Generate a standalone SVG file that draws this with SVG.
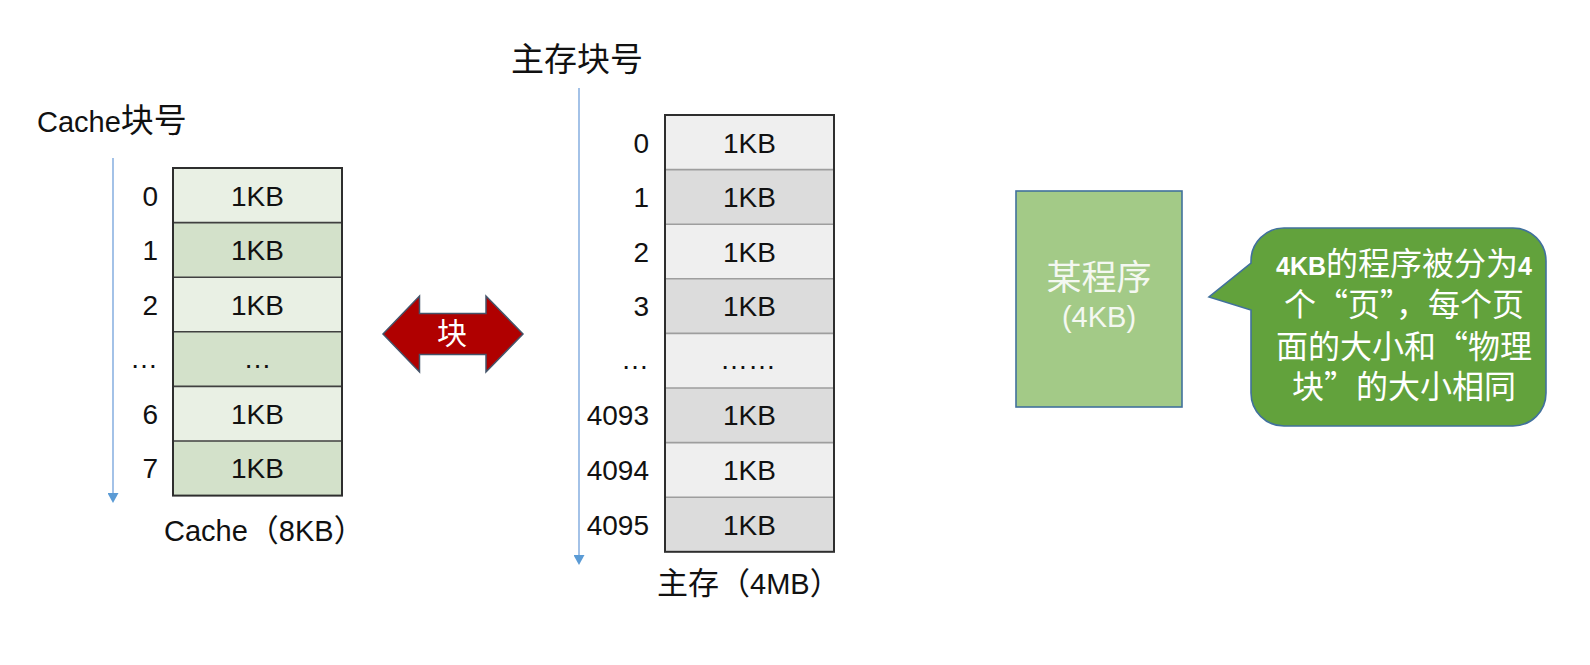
<svg xmlns="http://www.w3.org/2000/svg" width="1590" height="665" viewBox="0 0 1590 665">
  <style>
    .lbl { font-family: 'Liberation Sans', 'Noto Sans CJK SC', sans-serif; font-size: 28px; fill: #111; }
    .num { text-anchor: end; }
    .mid { text-anchor: middle; }
    .title { font-family: 'Liberation Sans', 'Noto Sans CJK SC', sans-serif; font-size: 29px; fill: #111; }
    .cjk { font-family: 'Noto Sans CJK SC', sans-serif; }
    .latin { font-family: 'Liberation Sans', sans-serif; }
    .c-light { fill: #E9F0E4; }
    .c-dark { fill: #D3E1CA; }
    .m-light { fill: #EFEFEF; }
    .m-dark { fill: #DCDCDC; }
    .c-div { stroke: #404040; stroke-width: 1.6; }
    .m-div { stroke: #9E9E9E; stroke-width: 1.6; }
    .frame { fill: none; stroke: #2E2E2E; stroke-width: 2; }
    .axis { stroke: #8DB3E2; stroke-width: 1.6; fill: none; }
    .white { fill: #FFFFFF; }
    .fw { font-feature-settings: "fwid" 1; }
  </style>
  <defs>
    <marker id="axisHead" viewBox="0 0 10 11" refX="0" refY="5.5" markerWidth="10" markerHeight="11" markerUnits="userSpaceOnUse" orient="auto">
      <path d="M0,0 L10,5.5 L0,11 z" fill="#5B9BD5"/>
    </marker>
  </defs>

  <rect width="1590" height="665" fill="#FFFFFF"/>

  <!-- axis arrows along the block numbers -->
  <g id="connectors">
    <line class="axis" x1="113" y1="158" x2="113" y2="493" marker-end="url(#axisHead)"/>
    <line class="axis" x1="579" y1="88" x2="579" y2="555" marker-end="url(#axisHead)"/>
  </g>

  <!-- Cache: 8 blocks of 1KB -->
  <g id="cache">
    <text class="title" x="37" y="132" font-size="30">Cache<tspan class="cjk" font-size="33">块号</tspan></text>
    <rect class="c-light" x="173" y="168" width="169" height="54.6"/>
    <rect class="c-dark" x="173" y="222.6" width="169" height="54.6"/>
    <rect class="c-light" x="173" y="277.2" width="169" height="54.6"/>
    <rect class="c-dark" x="173" y="331.8" width="169" height="54.6"/>
    <rect class="c-light" x="173" y="386.4" width="169" height="54.6"/>
    <rect class="c-dark" x="173" y="441" width="169" height="54.6"/>
    <line class="c-div" x1="173" y1="222.6" x2="342" y2="222.6"/>
    <line class="c-div" x1="173" y1="277.2" x2="342" y2="277.2"/>
    <line class="c-div" x1="173" y1="331.8" x2="342" y2="331.8"/>
    <line class="c-div" x1="173" y1="386.4" x2="342" y2="386.4"/>
    <line class="c-div" x1="173" y1="441" x2="342" y2="441"/>
    <rect class="frame" x="173" y="168" width="169" height="327.6"/>

    <text class="lbl num" x="158" y="205.5">0</text>
    <text class="lbl num" x="158" y="260">1</text>
    <text class="lbl num" x="158" y="314.6">2</text>
    <text class="lbl num" x="158" y="368">…</text>
    <text class="lbl num" x="158" y="423.8">6</text>
    <text class="lbl num" x="158" y="478.4">7</text>

    <text class="lbl mid" x="257.5" y="205.5">1KB</text>
    <text class="lbl mid" x="257.5" y="260">1KB</text>
    <text class="lbl mid" x="257.5" y="314.6">1KB</text>
    <text class="lbl mid" x="257.5" y="368">…</text>
    <text class="lbl mid" x="257.5" y="423.8">1KB</text>
    <text class="lbl mid" x="257.5" y="478.4">1KB</text>

    <text class="title" x="164" y="541">Cache<tspan class="cjk" font-size="31">（</tspan>8KB<tspan class="cjk" font-size="31">）</tspan></text>
  </g>

  <!-- block transfer between cache and main memory -->
  <g id="block-transfer">
    <polygon points="383,334 419.5,296 419.5,313.5 486,313.5 486,296 523,334 486,372 486,354.5 419.5,354.5 419.5,372" fill="#B00000" stroke="#44546A" stroke-width="1.5"/>
    <text class="cjk white" x="452" y="344" font-size="30" text-anchor="middle">块</text>
  </g>

  <!-- Main memory: 4096 blocks of 1KB -->
  <g id="main-memory">
    <text class="cjk" x="511" y="71" font-size="33" fill="#111">主存块号</text>
    <rect class="m-light" x="665" y="115" width="169" height="54.6"/>
    <rect class="m-dark" x="665" y="169.6" width="169" height="54.6"/>
    <rect class="m-light" x="665" y="224.2" width="169" height="54.6"/>
    <rect class="m-dark" x="665" y="278.8" width="169" height="54.6"/>
    <rect class="m-light" x="665" y="333.4" width="169" height="54.6"/>
    <rect class="m-dark" x="665" y="388" width="169" height="54.6"/>
    <rect class="m-light" x="665" y="442.6" width="169" height="54.6"/>
    <rect class="m-dark" x="665" y="497.2" width="169" height="54.6"/>
    <line class="m-div" x1="665" y1="169.6" x2="834" y2="169.6"/>
    <line class="m-div" x1="665" y1="224.2" x2="834" y2="224.2"/>
    <line class="m-div" x1="665" y1="278.8" x2="834" y2="278.8"/>
    <line class="m-div" x1="665" y1="333.4" x2="834" y2="333.4"/>
    <line class="m-div" x1="665" y1="388" x2="834" y2="388"/>
    <line class="m-div" x1="665" y1="442.6" x2="834" y2="442.6"/>
    <line class="m-div" x1="665" y1="497.2" x2="834" y2="497.2"/>
    <rect class="frame" x="665" y="115" width="169" height="436.8"/>

    <text class="lbl num" x="649" y="152.5">0</text>
    <text class="lbl num" x="649" y="207">1</text>
    <text class="lbl num" x="649" y="261.6">2</text>
    <text class="lbl num" x="649" y="316.2">3</text>
    <text class="lbl num" x="649" y="369">…</text>
    <text class="lbl num" x="649" y="425.4">4093</text>
    <text class="lbl num" x="649" y="480">4094</text>
    <text class="lbl num" x="649" y="534.6">4095</text>

    <text class="lbl mid" x="749.5" y="152.5">1KB</text>
    <text class="lbl mid" x="749.5" y="207">1KB</text>
    <text class="lbl mid" x="749.5" y="261.6">1KB</text>
    <text class="lbl mid" x="749.5" y="316.2">1KB</text>
    <text class="lbl mid" x="748" y="369" font-size="22">……</text>
    <text class="lbl mid" x="749.5" y="425.4">1KB</text>
    <text class="lbl mid" x="749.5" y="480">1KB</text>
    <text class="lbl mid" x="749.5" y="534.6">1KB</text>

    <text class="title" x="657" y="594"><tspan class="cjk" font-size="31">主存（</tspan>4MB<tspan class="cjk" font-size="31">）</tspan></text>
  </g>

  <!-- a 4KB program -->
  <g id="program">
    <rect x="1016" y="191" width="166" height="216" fill="#A3CA87" stroke="#41719C" stroke-width="1.6"/>
    <text class="cjk" x="1099" y="290" font-size="35" fill="#F4F8F1" text-anchor="middle">某程序</text>
    <text class="latin" x="1099" y="327" font-size="29" fill="#F4F8F1" text-anchor="middle">(4KB)</text>
  </g>

  <!-- callout explaining pages -->
  <g id="callout">
    <path d="M1284,228 H1513 A33,33 0 0 1 1546,261 V393 A33,33 0 0 1 1513,426 H1284 A33,33 0 0 1 1251,393 V310 L1209,297 L1251,263 V261 A33,33 0 0 1 1284,228 Z" fill="#62A23C" stroke="#41719C" stroke-width="1.6"/>
    <text class="cjk white fw" font-size="32" text-anchor="middle"><tspan x="1404" y="275"><tspan class="latin" font-weight="bold" font-size="25">4KB</tspan>的程序被分为<tspan class="latin" font-weight="bold" font-size="25">4</tspan></tspan><tspan x="1404" y="316">个“页”，每个页</tspan><tspan x="1404" y="358">面的大小和“物理</tspan><tspan x="1404" y="398">块”的大小相同</tspan></text>
  </g>
</svg>
